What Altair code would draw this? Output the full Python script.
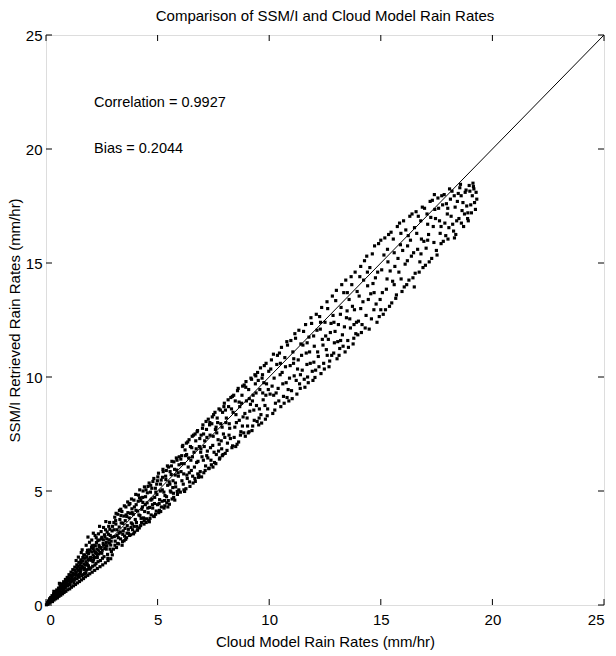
import altair as alt
import pandas as pd

# ---- scatter points (Cloud model rain rate, SSM/I retrieved rain rate) ----
seg_a = [[0.02,0.01],[0.06,0.10],[0.08,0.03],[0.11,0.18],[0.14,0.08],[0.16,0.27],[0.19,0.12],[0.21,0.33],
         [0.24,0.19],[0.27,0.41],[0.29,0.15],[0.31,0.28],[0.34,0.49],[0.36,0.22],[0.39,0.37],[0.41,0.58],
         [0.43,0.27],[0.46,0.45],[0.48,0.66],[0.51,0.31],[0.53,0.52],[0.56,0.74],[0.58,0.38],[0.61,0.61],
         [0.63,0.83],[0.66,0.43],[0.69,0.70],[0.71,0.93],[0.74,0.49],[0.76,0.78],[0.79,1.02],[0.81,0.55],
         [0.84,0.88],[0.87,1.12],[0.89,0.60],[0.92,0.97],[0.95,1.21],[0.97,0.67],[1.00,1.05],[1.03,1.33],
         [1.06,0.71],[1.09,1.15],[1.12,1.44],[1.14,0.78],[1.17,1.24],[1.20,1.55],[1.23,0.84],[1.26,1.33],
         [1.29,1.66],[1.32,0.90],[1.35,1.42],[1.38,1.76],[1.41,0.97],[1.44,1.52],[1.47,1.87],[1.50,1.03],
         [1.53,1.61],[1.56,1.98],[1.59,1.10],[1.62,1.71],[1.65,2.08],[1.68,1.16],[1.71,1.80],[1.74,2.19],
         [1.77,1.24],[1.80,1.90],[1.84,2.30],[1.87,1.30],[1.90,1.99],[1.93,2.41],[1.96,1.37],[2.00,2.09],
         [2.04,2.52],[2.07,1.44],[2.11,2.19],[2.15,2.62],[2.18,1.52],[2.22,2.30],[2.26,2.74],[2.30,1.60],
         [2.34,2.41],[2.38,2.85],[2.42,1.68],[2.46,2.52],[2.50,2.97],[2.54,1.76],[2.58,2.63],[2.62,3.08],
         [2.66,1.85],[2.70,2.74],[2.74,3.20],[2.78,1.95],[2.82,2.86],[2.86,3.32],[2.90,2.03],[2.95,2.97],
         [2.98,3.45]]

seg_a2 = [[0.90,0.82],[1.10,1.02],[1.30,1.18],[1.50,1.36],[1.70,1.55],[1.90,1.72],[2.10,1.90],
          [2.30,2.08],[2.50,2.27],[2.70,2.45],[2.90,2.63],[1.62,2.42],[1.88,2.98],[2.68,3.66],
          [1.45,2.10],[2.20,3.05],[0.60,0.95],[0.35,0.60],
          [0.22,0.24],[0.33,0.36],[0.38,0.50],[0.47,0.55],[0.52,0.42],[0.57,0.66],[0.64,0.72],[0.68,0.55],
          [0.73,0.88],[0.77,0.66],[0.83,0.98],[0.86,0.77],[0.93,1.08],[0.99,0.90],[1.04,1.20],[1.07,0.97],
          [1.13,1.30],[1.19,1.12],[1.22,1.40],[1.27,1.10],[1.31,1.52],[1.37,1.30],[1.40,1.62],[1.46,1.25],
          [1.52,1.74],[1.55,1.47],[1.58,1.86],[1.63,1.33],[1.66,1.94],[1.72,1.62],[1.76,2.05],[1.79,1.42],
          [1.83,2.12],[1.85,1.80],[1.91,2.26],[1.95,1.57],[1.98,2.40],[2.02,1.96],[2.05,2.33],[2.09,1.70],
          [2.12,2.48],[2.17,2.08],[2.21,2.60],[2.24,1.82],[2.28,2.45],[2.32,2.82],[2.36,2.24],[2.40,2.55],
          [2.44,1.95],[2.48,2.90],[2.52,2.40],[2.56,2.70],[2.60,2.12],[2.64,3.00],[2.69,2.58],[2.72,2.90],
          [2.76,2.22],[2.80,3.10],[2.84,2.72],[2.88,3.05],[2.93,2.35],[2.96,3.25],[1.35,1.95],[1.58,2.30],
          [1.80,2.62],[2.05,2.85],[2.35,3.12],[2.58,3.40],[2.85,3.62],[2.40,3.45],[2.12,3.15],[1.95,2.75]]

seg_b = [[3.02,2.45],[3.05,3.30],[3.08,3.85],[3.10,2.80],[3.13,3.55],[3.16,2.52],[3.19,3.05],[3.22,3.98],
         [3.25,2.68],[3.28,3.42],[3.31,3.75],[3.34,2.90],[3.37,3.60],[3.40,4.10],[3.43,2.78],[3.46,3.25],
         [3.49,3.90],[3.52,3.02],[3.55,3.70],[3.58,4.30],[3.61,2.95],[3.64,3.48],[3.67,4.05],[3.70,3.15],
         [3.73,3.82],[3.76,4.45],[3.79,3.08],[3.82,3.60],[3.85,4.22],[3.88,3.30],[3.91,3.98],[3.94,4.60],
         [3.97,3.20],[4.00,3.75],[4.04,4.40],[4.07,3.45],[4.11,4.12],[4.14,4.82],[4.18,3.38],[4.21,3.92],
         [4.25,4.58],[4.28,3.62],[4.32,4.30],[4.35,5.00],[4.39,3.55],[4.42,4.10],[4.46,4.75],[4.50,3.78],
         [4.53,4.48],[4.57,5.20],[4.60,3.72],[4.64,4.28],[4.68,4.95],[4.71,3.95],[4.75,4.65],[4.79,5.42],
         [4.82,3.90],[4.86,4.45],[4.90,5.12],[4.94,4.12],[4.97,4.85],[5.01,5.62],[5.05,4.05],[5.09,4.62],
         [5.13,5.30],[5.17,4.30],[5.21,5.05],[5.25,5.85],[5.29,4.25],[5.33,4.80],[5.37,5.50],[5.41,4.48],
         [5.45,5.25],[5.49,6.05],[5.53,4.42],[5.57,5.00],[5.61,5.72],[5.65,4.65],[5.69,5.45],[5.73,6.28],
         [5.77,4.60],[5.81,5.18],[5.85,5.92],[5.89,4.85],[5.93,5.65],[5.97,6.50]]

seg_b2 = [[3.04,3.62],[3.09,2.62],[3.14,4.02],[3.18,3.30],[3.24,2.95],[3.29,4.15],[3.33,3.20],[3.36,3.92],
          [3.41,2.62],[3.45,3.58],[3.51,4.35],[3.54,3.36],[3.57,2.88],[3.62,3.88],[3.66,4.52],[3.69,3.32],
          [3.74,3.05],[3.78,4.02],[3.83,4.65],[3.87,3.55],[3.92,3.12],[3.96,4.30],[4.02,4.85],[4.05,3.62],
          [4.09,3.28],[4.13,4.55],[4.16,3.95],[4.20,5.05],[4.24,3.48],[4.29,4.20],[4.33,4.72],[4.37,3.82],
          [4.41,5.18],[4.45,4.40],[4.49,3.62],[4.54,4.92],[4.58,4.05],[4.62,5.35],[4.66,3.80],[4.70,4.60],
          [4.74,5.12],[4.78,4.25],[4.83,5.55],[4.87,4.72],[4.91,3.98],[4.96,5.30],[5.00,4.40],[5.04,5.78],
          [5.08,4.15],[5.12,5.00],[5.16,5.48],[5.20,4.55],[5.24,5.95],[5.28,4.95],[5.32,4.35],[5.36,5.65],
          [5.40,4.75],[5.44,6.10],[5.48,4.58],[5.52,5.40],[5.56,5.85],[5.60,4.95],[5.64,6.30],[5.68,5.15],
          [5.72,4.72],[5.76,5.95],[5.80,5.35],[5.84,6.45],[5.88,4.98],[5.92,5.80],[5.96,6.15]]

seg_c = [[6.02,4.95],[6.05,5.85],[6.08,6.55],[6.11,6.95],[6.15,5.30],[6.19,6.20],[6.23,6.80],[6.27,5.10],
         [6.31,5.70],[6.35,7.15],[6.39,6.45],[6.43,5.40],[6.47,6.95],[6.51,5.90],[6.55,7.40],[6.59,5.35],
         [6.63,6.70],[6.67,5.55],[6.71,7.20],[6.75,6.25],[6.79,7.65],[6.83,5.60],[6.87,6.95],[6.91,5.85],
         [6.95,7.45],[6.99,6.50],[7.03,7.90],[7.07,5.80],[7.11,7.20],[7.15,6.10],[7.19,7.70],[7.23,6.75],
         [7.27,8.15],[7.31,6.00],[7.35,7.45],[7.39,6.35],[7.43,7.95],[7.47,7.00],[7.51,8.35],[7.55,6.25],
         [7.59,7.70],[7.63,6.60],[7.67,8.20],[7.71,7.25],[7.75,8.60],[7.79,6.45],[7.83,7.95],[7.87,6.85],
         [7.91,8.45],[7.95,7.50],[7.99,8.85],[8.03,6.65],[8.08,8.20],[8.13,7.10],[8.18,8.70],[8.23,7.75],
         [8.28,9.10],[8.33,6.90],[8.38,8.45],[8.43,7.35],[8.48,8.95],[8.53,8.00],[8.58,9.40],[8.63,7.15],
         [8.68,8.70],[8.73,7.60],[8.78,9.20],[8.83,8.25],[8.88,9.65],[8.93,7.40],[8.98,8.95],[9.03,7.85],
         [9.08,9.45],[9.13,8.50],[9.18,9.95],[9.23,7.65],[9.28,9.20],[9.33,8.10],[9.38,9.70],[9.43,8.75],
         [9.48,10.20],[9.53,7.90],[9.58,9.45],[9.63,8.35],[9.68,9.95],[9.73,9.00],[9.78,10.50],[9.83,8.15],
         [9.88,9.70],[9.93,8.60],[9.98,10.25]]

seg_c2 = [[6.04,6.40],[6.09,5.45],[6.13,7.00],[6.17,5.75],[6.21,4.98],[6.25,6.55],[6.29,7.10],[6.33,5.55],
          [6.37,6.05],[6.41,7.25],[6.45,5.20],[6.49,6.35],[6.53,6.90],[6.57,5.65],[6.61,7.45],[6.65,6.05],
          [6.69,5.42],[6.73,6.85],[6.77,7.60],[6.81,6.30],[6.85,5.70],[6.89,7.30],[6.93,6.70],[6.97,5.62],
          [7.01,7.75],[7.05,6.35],[7.09,6.95],[7.13,5.90],[7.17,8.05],[7.21,7.35],[7.25,6.45],[7.29,5.98],
          [7.33,7.90],[7.37,6.90],[7.41,6.15],[7.45,8.25],[7.49,7.40],[7.53,6.70],[7.57,8.45],[7.61,6.20],
          [7.65,7.55],[7.69,8.00],[7.73,6.75],[7.77,6.40],[7.81,8.55],[7.85,7.20],[7.89,7.80],[7.93,6.60],
          [7.97,8.70],[8.01,7.35],[8.06,8.00],[8.11,6.78],[8.16,9.00],[8.21,7.95],[8.26,7.30],[8.31,8.60],
          [8.36,6.98],[8.41,9.20],[8.46,7.80],[8.51,8.35],[8.56,7.05],[8.61,9.50],[8.66,8.10],[8.71,7.45],
          [8.76,8.85],[8.81,9.60],[8.86,7.55],[8.91,8.40],[8.96,9.80],[9.01,8.20],[9.06,7.55],[9.11,9.05],
          [9.16,8.80],[9.21,9.90],[9.26,7.85],[9.31,8.55],[9.36,10.10],[9.41,9.30],[9.46,8.05],[9.51,9.85],
          [9.56,8.60],[9.61,10.40],[9.66,7.98],[9.71,9.30],[9.76,9.75],[9.81,8.75],[9.86,10.60],[9.91,8.30],
          [9.96,9.45]]

seg_d = [[10.04,9.25],[10.10,10.75],[10.16,8.40],[10.22,9.95],[10.28,8.85],[10.34,10.55],[10.40,9.50],
         [10.46,11.05],[10.52,8.70],[10.58,10.20],[10.64,9.15],[10.70,10.85],[10.76,9.75],[10.82,11.40],
         [10.88,8.95],[10.94,10.50],[11.00,9.40],[11.06,11.10],[11.12,10.05],[11.18,11.70],[11.24,9.25],
         [11.30,10.75],[11.36,9.70],[11.42,11.45],[11.48,10.30],[11.54,12.00],[11.60,9.55],[11.66,11.05],
         [11.72,10.00],[11.78,11.75],[11.84,10.60],[11.90,12.35],[11.96,9.85],[12.02,11.35],[12.08,10.30],
         [12.14,12.05],[12.20,10.90],[12.26,12.65],[12.32,10.15],[12.38,11.65],[12.44,10.60],[12.50,12.40],
         [12.56,11.20],[12.62,13.00],[12.68,10.45],[12.74,11.95],[12.80,10.95],[12.86,12.70],[12.92,11.50],
         [12.98,13.35],[13.04,10.80],[13.10,12.30],[13.16,11.25],[13.22,13.05],[13.28,11.85],[13.34,13.70],
         [13.40,11.10],[13.46,12.60],[13.52,11.60],[13.58,13.40],[13.64,12.15],[13.70,14.05],[13.76,11.45],
         [13.82,12.95],[13.88,11.90],[13.94,13.75]]

seg_d2 = [[10.07,10.35],[10.13,9.60],[10.19,11.00],[10.25,8.55],[10.31,9.30],[10.37,10.95],[10.43,8.95],
          [10.49,10.10],[10.55,11.30],[10.61,9.70],[10.67,8.85],[10.73,10.45],[10.79,11.55],[10.85,9.45],
          [10.91,9.95],[10.97,11.60],[11.03,9.05],[11.09,10.60],[11.15,11.90],[11.21,9.85],[11.27,10.35],
          [11.33,12.05],[11.39,9.50],[11.45,10.95],[11.51,11.40],[11.57,9.90],[11.63,12.30],[11.69,10.55],
          [11.75,9.75],[11.81,11.10],[11.87,12.60],[11.93,10.25],[11.99,11.80],[12.05,9.98],[12.11,12.75],
          [12.17,11.10],[12.23,10.45],[12.29,12.10],[12.35,13.05],[12.41,11.40],[12.47,10.35],[12.53,11.80],
          [12.59,13.30],[12.65,11.65],[12.71,10.70],[12.77,12.35],[12.83,13.55],[12.89,11.05],[12.95,12.00],
          [13.01,13.80],[13.07,11.55],[13.13,10.95],[13.19,12.75],[13.25,14.05],[13.31,11.35],[13.37,12.20],
          [13.43,14.25],[13.49,12.90],[13.55,11.30],[13.61,12.55],[13.67,14.40],[13.73,13.10],[13.79,11.70],
          [13.85,14.60],[13.91,12.40],[13.97,11.85]]

seg_e = [[14.00,12.45],[14.06,14.40],[14.13,11.95],[14.20,13.30],[14.27,15.10],[14.34,12.70],[14.41,14.00],
         [14.48,12.10],[14.55,13.65],[14.62,15.40],[14.69,12.95],[14.76,14.35],[14.83,12.40],[14.90,15.85],
         [14.97,13.40],[15.04,14.70],[15.11,12.75],[15.18,16.10],[15.25,13.85],[15.32,15.05],[15.39,13.10],
         [15.46,16.35],[15.53,14.20],[15.60,15.45],[15.67,13.45],[15.74,16.60],[15.81,14.60],[15.88,15.80],
         [15.95,13.75],[16.02,16.85],[16.09,14.95],[16.16,14.05],[16.23,16.20],[16.30,17.05],[16.37,15.30],
         [16.44,14.35],[16.51,16.55],[16.58,17.25],[16.65,15.60],[16.72,14.60],[16.79,16.85],[16.86,17.45],
         [16.93,15.95],[17.00,14.90],[17.07,17.15],[17.14,16.25],[17.21,17.70],[17.28,15.20],[17.35,16.60],
         [17.42,17.35],[17.49,15.55],[17.56,17.85],[17.63,16.85],[17.70,15.85],[17.77,17.55],[17.84,18.00],
         [17.91,16.20],[17.98,17.15],[18.05,16.55],[18.12,17.80],[18.19,18.15],[18.26,16.40],[18.33,17.45],
         [18.40,16.85],[18.47,18.05],[18.54,18.30],[18.61,16.75],[18.68,17.65],[18.75,17.15],[18.82,18.20],
         [18.89,16.95],[18.96,18.40],[19.03,17.55],[19.10,17.95],[19.17,18.25],[19.24,17.35],[19.30,17.80]]

seg_e2 = [[14.03,13.55],[14.10,14.85],[14.16,12.30],[14.23,14.25],[14.30,12.15],[14.37,15.30],[14.44,13.40],
          [14.51,14.80],[14.58,12.55],[14.65,14.10],[14.72,15.75],[14.79,13.20],[14.86,14.60],[14.93,12.65],
          [15.00,16.00],[15.07,13.70],[15.14,15.35],[15.21,12.95],[15.28,14.30],[15.35,16.25],[15.42,14.65],
          [15.49,13.25],[15.56,16.05],[15.63,14.85],[15.70,13.60],[15.77,15.20],[15.84,16.75],[15.91,14.30],
          [15.98,15.55],[16.05,13.95],[16.12,16.45],[16.19,15.10],[16.26,14.25],[16.33,16.00],[16.40,17.15],
          [16.47,15.45],[16.54,14.55],[16.61,16.30],[16.68,17.05],[16.75,15.05],[16.82,16.05],[16.89,14.80],
          [16.96,17.40],[17.03,15.65],[17.10,16.70],[17.17,15.05],[17.24,17.00],[17.31,17.75],[17.38,15.90],
          [17.45,16.95],[17.52,15.35],[17.59,17.40],[17.66,16.30],[17.73,17.95],[17.80,15.95],[17.87,16.75],
          [17.94,17.60],[18.01,16.05],[18.08,18.25],[18.15,17.05],[18.22,16.70],[18.29,17.95],[18.36,16.25],
          [18.43,17.70],[18.50,16.95],[18.57,18.45],[18.64,17.30],[18.71,16.60],[18.78,18.10],[18.85,17.50],
          [18.92,16.85],[18.99,18.15],[19.06,17.20],[19.13,18.50],[19.20,17.65],[19.27,18.10]]

seg_f = [[0.27,0.30],[0.44,0.36],[0.55,0.60],[0.62,0.50],[0.70,0.80],[0.75,0.60],[0.82,0.70],[0.88,1.00],
         [0.96,0.85],[1.01,1.12],[1.08,0.88],[1.16,1.05],[1.21,1.32],[1.25,0.98],[1.33,1.35],[1.39,1.15],
         [1.43,1.70],[1.49,1.22],[1.54,1.55],[1.61,1.28],[1.64,1.62],[1.69,2.20],[1.73,1.38],[1.78,1.75],
         [1.82,1.55],[1.86,2.40],[1.92,1.64],[1.97,2.05],[2.01,1.62],[2.06,2.60],[2.13,1.98],[2.16,2.36],
         [2.19,1.75],[2.25,2.95],[2.29,2.20],[2.33,1.90],[2.37,2.62],[2.43,2.30],[2.47,3.22],[2.53,2.05],
         [2.57,2.86],[2.63,2.48],[2.67,3.30],[2.73,2.60],[2.77,2.05],[2.81,3.45],[2.87,2.45],[2.92,2.80],
         [2.97,2.20],[3.06,3.00],[3.12,3.70],[3.21,2.70],[3.27,3.15],[3.35,4.20],[3.44,3.10],[3.50,2.82],
         [3.59,3.95],[3.63,3.15],[3.72,4.40],[3.81,3.40],[3.86,4.05],[3.95,3.45],[4.03,4.15],[4.10,3.30],
         [4.19,4.70],[4.26,3.80],[4.34,4.50],[4.40,3.70],[4.48,5.05],[4.56,4.25],[4.63,3.65],[4.69,5.25],
         [4.77,4.40],[4.85,3.88],[4.92,4.95],[4.99,5.45],[5.07,4.45],[5.14,4.10],[5.22,5.60],[5.31,4.58],
         [5.39,5.90],[5.46,4.30],[5.55,5.30],[5.62,6.10],[5.71,4.90],[5.79,5.70],[5.87,6.35],[5.95,5.05],
         [6.07,6.20],[6.18,5.05],[6.30,6.60],[6.42,5.80],[6.56,6.50],[6.68,7.50],[6.80,5.75],[6.94,6.85],
         [7.06,7.50],[7.20,6.55],[7.34,8.00],[7.48,6.05],[7.62,7.80],[7.76,7.05],[7.90,6.55],[8.04,8.55],
         [8.20,7.45],[8.35,9.15],[8.50,6.95],[8.65,8.90],[8.80,7.85],[8.95,9.55],[9.10,7.60],[9.25,8.95],
         [9.40,10.05],[9.55,8.20],[9.70,10.10],[9.85,9.20],[10.2,9.20],[10.5,10.60],[10.8,9.10],[11.1,10.80],
         [11.4,10.10],[11.7,11.50],[12.0,10.65],[12.3,12.40],[12.6,10.95],[12.9,12.40],[13.2,11.60],
         [13.5,13.70],[13.8,12.30],[14.1,13.00],[14.4,14.60],[14.7,13.70],[15.0,12.95],[15.3,15.60],
         [15.6,14.05],[15.9,16.30],[16.2,15.75],[16.5,13.95],[16.8,15.40],[17.1,16.00],[17.4,18.00],
         [17.7,16.60],[18.0,17.40],[18.3,16.10],[18.6,17.95],[18.9,17.20],[19.15,18.35]]

# 1:1 reference line
line_x = [0, 25]
line_y = [0, 25]

# axis ticks
tick_values = [0, 5, 10, 15, 20, 25]

# annotations
note_text = ["Correlation = 0.9927", "Bias = 0.2044"]
note_x = [2.15, 2.15]
note_y = [22.0, 20.0]

FONT = "Liberation Sans"
W, H = 558, 570

all_pts = seg_a + seg_a2 + seg_b + seg_b2 + seg_c + seg_c2 + seg_d + seg_d2 + seg_e + seg_e2 + seg_f
pts = pd.DataFrame(all_pts, columns=["model", "ssmi"])
line_df = pd.DataFrame({"model": line_x, "ssmi": line_y})
ticks_df = pd.DataFrame({"t": tick_values})
notes_df = pd.DataFrame({"text": note_text, "model": note_x, "ssmi": note_y})

xscale = alt.Scale(domain=[0, 25], nice=False, zero=False)
yscale = alt.Scale(domain=[0, 25], nice=False, zero=False)

axis_common = dict(grid=False, domain=False, ticks=False, values=tick_values,
                   labelFont=FONT, labelFontSize=15, labelColor="black",
                   titleFont=FONT, titleFontSize=15, titleFontWeight="normal", titleColor="black")

xenc = alt.X("model:Q", scale=xscale,
             axis=alt.Axis(title="Cloud Model Rain Rates (mm/hr)", labelPadding=7, titlePadding=7,
                           **axis_common))
yenc = alt.Y("ssmi:Q", scale=yscale,
             axis=alt.Axis(title="SSM/I Retrieved Rain Rates (mm/hr)", labelPadding=4, titlePadding=3,
                           **axis_common))

points = alt.Chart(pts).mark_square(size=10, color="black", opacity=1, filled=True).encode(x=xenc, y=yenc)

one_to_one = alt.Chart(line_df).mark_line(color="black", strokeWidth=1).encode(
    x=alt.X("model:Q", scale=xscale), y=alt.Y("ssmi:Q", scale=yscale))

tick_len = 6
bottom_ticks = alt.Chart(ticks_df).mark_rule(color="black", strokeWidth=1).encode(
    x=alt.X("t:Q", scale=xscale), y=alt.value(H), y2=alt.value(H - tick_len))
top_ticks = alt.Chart(ticks_df).mark_rule(color="black", strokeWidth=1).encode(
    x=alt.X("t:Q", scale=xscale), y=alt.value(0), y2=alt.value(tick_len))
left_ticks = alt.Chart(ticks_df).mark_rule(color="black", strokeWidth=1).encode(
    y=alt.Y("t:Q", scale=yscale), x=alt.value(0), x2=alt.value(tick_len))
right_ticks = alt.Chart(ticks_df).mark_rule(color="black", strokeWidth=1).encode(
    y=alt.Y("t:Q", scale=yscale), x=alt.value(W), x2=alt.value(W - tick_len))

notes = alt.Chart(notes_df).mark_text(align="left", baseline="middle", font=FONT, fontSize=14.5,
                                      color="black").encode(
    x=alt.X("model:Q", scale=xscale), y=alt.Y("ssmi:Q", scale=yscale), text="text:N")

chart = alt.layer(points, one_to_one, bottom_ticks, top_ticks, left_ticks, right_ticks, notes).properties(
    width=W, height=H,
    title=alt.TitleParams("Comparison of SSM/I and Cloud Model Rain Rates", font=FONT, fontSize=15,
                          fontWeight="normal", color="black", anchor="middle", offset=4),
    autosize=alt.AutoSizeParams(type="none"),
    padding={"left": 46, "top": 35, "right": 12, "bottom": 51},
).configure_view(stroke="black", strokeWidth=1).configure(background="white")

chart.save("out.html", embed_options={"renderer": "svg", "actions": False})
